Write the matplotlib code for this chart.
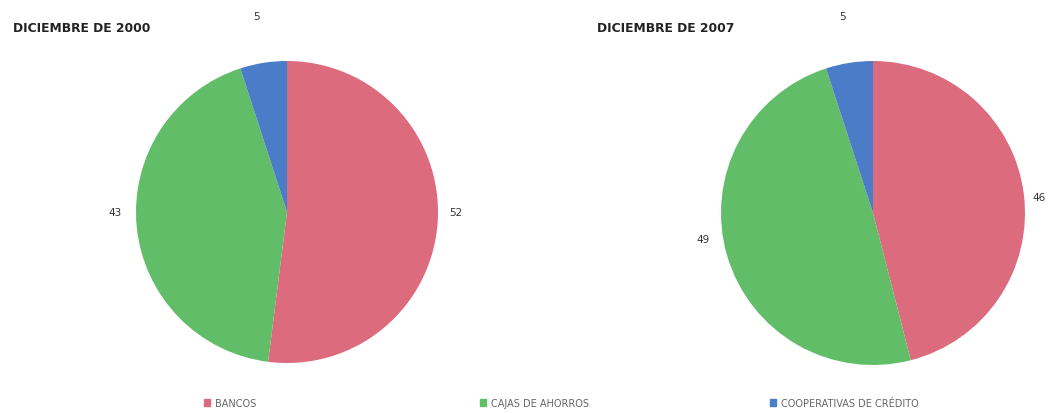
import matplotlib
matplotlib.use('Agg')
import matplotlib.pyplot as plt
import matplotlib.patches as mpatches
import numpy as np

categorias = ['BANCOS', 'CAJAS DE AHORROS', 'COOPERATIVAS DE CRÉDITO']
colores = ['#dc6b7d', '#62bd69', '#4a7cc8']
dic_2000 = [52, 43, 5]
dic_2007 = [46, 49, 5]
titulos = ['DICIEMBRE DE 2000', 'DICIEMBRE DE 2007']

W, H = 1051, 414
fig = plt.figure(figsize=(W / 100, H / 100), dpi=100)

# centros y radios en pixeles, y donde van las etiquetas (pixeles)
pies = [(dic_2000, 287, 213, 151, [(456, 213), (115, 213), (256, 17)]),
        (dic_2007, 873, 214, 152, [(1039, 198), (703, 240), (842, 17)])]

for vals, cx, cy, r, etiq in pies:
    ax = fig.add_axes([(cx - r) / W, (H - cy - r) / H, 2 * r / W, 2 * r / H])
    wedges, texts = ax.pie(vals, colors=colores, startangle=90, counterclock=False,
                           labels=[str(v) for v in vals], labeldistance=1.12,
                           wedgeprops=dict(linewidth=0),
                           textprops=dict(fontsize=7.5, color='#333333'))
    for t, (px, py) in zip(texts, etiq):
        t.set_position(((px - cx) / r, (cy - py) / r))
        t.set_ha('center')
        t.set_va('center')
    ax.set_xlim(-1, 1)
    ax.set_ylim(-1, 1)
    ax.set_aspect('equal')

fig.text(13 / W, 1 - 28 / H, titulos[0], fontsize=8.8, fontweight='bold',
         color='#222222', va='center')
fig.text(597 / W, 1 - 29 / H, titulos[1], fontsize=8.8, fontweight='bold',
         color='#222222', va='center')

# leyenda
leg_x = [204, 480, 770]
for x, cat, col in zip(leg_x, categorias, colores):
    h = mpatches.Patch(color=col, label=cat)
    fig.legend(handles=[h], loc='center left', bbox_to_anchor=(x / W, 1 - 404 / H),
               frameon=False, handlelength=0.6, handleheight=0.6, fontsize=7,
               handletextpad=0.5, labelcolor='#666666', borderpad=0, borderaxespad=0)

fig.savefig('out.png', dpi=100)
